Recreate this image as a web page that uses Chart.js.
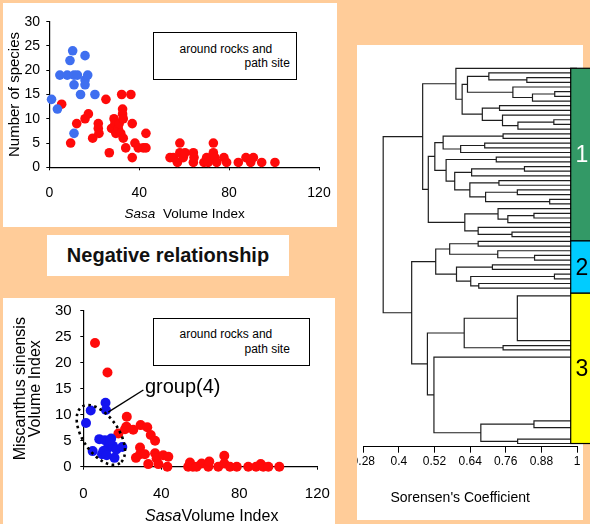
<!DOCTYPE html>
<html>
<head>
<meta charset="utf-8">
<title>Sasa volume index and site clusters</title>
<script src="https://cdn.jsdelivr.net/npm/chart.js@4.4.1/dist/chart.umd.min.js"></script>
<style>
  html, body { margin: 0; padding: 0; }
  body {
    width: 590px; height: 524px; position: relative; overflow: hidden;
    background: #ffcc99;
    font-family: Arial, "Liberation Sans", sans-serif;
  }
  .panel { position: absolute; background: #ffffff; }
  canvas { position: absolute; }
  .key { position: absolute; box-sizing: border-box; border: 1.5px solid #000; background: #fff; }
  .key span { position: absolute; font-size: 12px; line-height: 14px; white-space: nowrap; color: #000; }
  #headline {
    position: absolute; left: 47px; top: 235px; width: 242px; height: 41px; background: #fff;
    font-weight: bold; font-size: 20px; line-height: 41px; text-align: center; color: #111;
  }
</style>
</head>
<body>
<div class="panel" style="left:3px;top:3px;width:334px;height:224px"></div>
<div class="panel" style="left:3px;top:298px;width:332px;height:226px"></div>
<div class="panel" style="left:357px;top:45px;width:226px;height:475px"></div>

<canvas id="speciesChart" width="334" height="224" style="left:3px;top:3px"></canvas>
<canvas id="miscanthusChart" width="334" height="226" style="left:3px;top:298px"></canvas>
<canvas id="dendroChart" width="233" height="479" style="left:357px;top:45px"></canvas>

<div class="key" style="left:153px;top:32px;width:144px;height:48px">
  <span style="left:25.5px;top:8.5px">around rocks and</span>
  <span style="left:90.5px;top:23px">path site</span>
</div>
<div class="key" style="left:153px;top:318px;width:157px;height:48px">
  <span style="left:25.5px;top:8px">around rocks and</span>
  <span style="left:90.5px;top:23px">path site</span>
</div>
<div id="headline">Negative relationship</div>

<script>
// upper scatter: number of species against Sasa volume index
const topBlueSasa = [1.0, 3.6, 4.7, 8.0, 9.2, 10.4, 11.0, 11.0, 12.5, 13.9, 11.0, 15.9, 15.9, 15.9, 17.1, 20.3];
const topBlueSpecies = [14, 12, 19, 19, 22, 24, 19, 17, 19, 15, 7, 23, 18, 17, 19, 15];
const topRedSasa = [5.5, 9.5, 12.2, 15.9, 17.4, 19.3, 21.8, 21.8, 22.1, 25.2, 26.7, 27.7, 28.8, 29.2, 29.6,
  30.7, 31.1, 32.2, 32.6, 32.6, 32.9, 31.8, 32.9, 34.0, 36.3, 36.9, 36.9, 38.1, 39.6, 41.8, 43.0, 43.0,
  53.7, 55.2, 57.0, 58.1, 58.1, 59.6, 60.4, 64.1, 64.1, 64.4, 68.8, 70.0, 70.7, 73.0, 73.0, 73.7, 74.5,
  77.7, 78.9, 84.1, 87.5, 89.6, 90.8, 94.5, 100.4];
const topRedSpecies = [13, 5, 9, 10, 11, 6, 9, 8, 7, 14, 3, 8, 10, 9, 7,
  8, 9, 15, 12, 11, 10, 7, 6, 4, 15, 9, 2, 5, 4, 4, 7, 4,
  2, 2, 1, 5, 3, 2, 3, 3, 1, 2, 1, 2, 1, 5, 3, 2, 1,
  2, 1, 1, 2, 1, 2, 1, 1];

// lower scatter: Miscanthus sinensis volume index against Sasa volume index
const lowBlueSasa = [1.4, 3.8, 11.4, 11.6, 4.8, 8.2, 9.6, 11.1, 11.8, 13.5, 14.3, 15.2, 16.0, 17.0, 20.0, 10.3, 12.0, 13.7];
const lowBlueMiscanthus = [8.4, 10.8, 12.3, 10.9, 3.0, 5.3, 2.4, 5.1, 3.3, 3.8, 5.4, 4.0, 1.7, 3.3, 3.8, 3.0, 2.2, 5.1];
const lowRedSasa = [6.0, 12.4, 18.0, 21.4, 22.3, 22.1, 25.6, 27.0, 29.4, 29.1, 29.1, 31.6, 32.8, 33.3, 34.6,
  36.8, 36.8, 37.6, 38.5, 41.0, 43.6, 43.1, 53.8, 54.7, 56.2, 58.1, 60.7, 64.1, 64.6, 69.2,
  72.3, 72.3, 75.2, 78.7, 84.6, 88.6, 91.0, 92.3, 94.9, 100.5];
const lowRedMiscanthus = [23.8, 18.1, 6.4, 7.2, 9.6, 7.7, 7.1, 1.7, 8.0, 3.7, 2.4, 2.4, 7.6, 0.5, 6.1,
  5.0, 2.6, 1.6, 0.5, 2.2, 1.9, 0, 0, 0.8, 0, 0, 0.6, 0, 1.0, 0,
  2.1, 0.6, 0, 0, 0, 0, 0.5, 0, 0, 0];

const sasaTicks = [0, 40, 80, 120];
const volumeTicks = [0, 5, 10, 15, 20, 25, 30];

// dendrogram: leaf rows (top to bottom) and hclust-style merges [a, b, Sorensen coefficient]
// negative id = leaf number, positive id = earlier merge number
const leafRows = [1, 2, 3, 4, 5, 6, 7, 8, 9, 10, 11, 12, 13, 14, 15, 16, 17, 18, 19, 20,
  21, 22, 23, 24, 25, 26, 27, 28, 29, 30, 31, 32, 33, 34, 35, 36, 37,
  38, 39, 40, 41, 42, 43, 44, 45, 46, 47, 48,
  49.65, 59.2, 60.27, 61.2, 62.73, 76.34, 77.8, 80.27, 81.2];
const merges = [
  [-3, -4, 0.831], [-2, 1, 0.703], [-6, -7, 0.925], [3, -8, 0.850], [-5, 4, 0.784],
  [2, 5, 0.631], [-9, -10, 0.739], [-12, -13, 0.922], [8, -14, 0.801], [-11, 9, 0.749],
  [7, 10, 0.681], [6, 11, 0.613], [-1, 12, 0.592], [-15, -16, 0.751], [-17, -18, 0.689],
  [15, -19, 0.608], [14, 16, 0.549], [-20, -21, 0.728], [-22, -23, 0.823], [19, -24, 0.645],
  [-25, -26, 0.737], [-27, -28, 0.799], [-29, -30, 0.908], [22, 23, 0.692], [21, 24, 0.639],
  [20, 25, 0.588], [18, 26, 0.559], [17, 27, 0.521], [-32, -33, 0.855], [29, -34, 0.767],
  [-31, 30, 0.734], [-36, -37, 0.781], [-35, 32, 0.667], [31, 33, 0.622], [28, 34, 0.499],
  [13, 35, 0.480],
  [-38, -39, 0.667], [-41, -42, 0.857], [-40, 38, 0.733], [37, 39, 0.571], [-43, -44, 0.715],
  [-45, -46, 0.924], [-47, -48, 0.669], [42, 43, 0.642], [41, 44, 0.594], [40, 45, 0.524],
  [-49, -50, 0.799], [-51, -52, 0.751], [47, 48, 0.620], [-54, -55, 0.855], [-56, -57, 0.800],
  [50, 51, 0.676], [-53, 52, 0.518], [49, 53, 0.496], [46, 54, 0.443], [36, 55, 0.347]
];
const sorensenTicks = [0.28, 0.4, 0.52, 0.64, 0.76, 0.88, 1];
const clusterNames = ['1', '2', '3'];
const clusterTop = [1, 37.9, 49.08];
const clusterBottom = [37.9, 49.08, 81.2];
const clusterColors = ['#339966', '#00ccff', '#ffff00'];
const clusterTextColors = ['#ffffff', '#000000', '#000000'];

const FAMILY = 'Arial, "Liberation Sans", sans-serif';
Chart.defaults.font.family = FAMILY;
Chart.defaults.color = '#000';
Chart.defaults.animation = false;

const pairs = (xs, ys) => xs.map((x, i) => ({ x: x, y: ys[i] }));

// x title with the italic genus name
function sasaAxisTitle(gap, size, y, dx) {
  return {
    id: 'sasaAxisTitle',
    afterDraw(chart) {
      const { ctx, chartArea } = chart;
      ctx.save();
      ctx.fillStyle = '#000';
      ctx.textBaseline = 'middle';
      ctx.textAlign = 'left';
      ctx.font = `italic ${size}px ${FAMILY}`;
      const wItalic = ctx.measureText('Sasa').width;
      ctx.font = `${size}px ${FAMILY}`;
      const rest = gap + 'Volume Index';
      const wRest = ctx.measureText(rest).width;
      const x = (chartArea.left + chartArea.right) / 2 + dx - (wItalic + wRest) / 2;
      ctx.font = `italic ${size}px ${FAMILY}`;
      ctx.fillText('Sasa', x, y);
      ctx.font = `${size}px ${FAMILY}`;
      ctx.fillText(rest, x + wItalic, y);
      ctx.restore();
    }
  };
}

function scatterScales(o) {
  return {
    x: {
      type: 'linear', min: 0, max: 120,
      afterBuildTicks: s => { s.ticks = sasaTicks.map(v => ({ value: v })); },
      ticks: { font: { size: o.tickSize }, padding: o.xPad, maxRotation: 0 },
      grid: { drawOnChartArea: false, tickLength: 3, color: '#000' },
      border: { color: '#000', width: 1.2 },
      afterFit: s => { s.height = o.xHeight; s.paddingLeft = 0; s.paddingRight = 0; }
    },
    y: {
      type: 'linear', min: 0, max: 30,
      afterBuildTicks: s => { s.ticks = volumeTicks.map(v => ({ value: v })); },
      ticks: { font: { size: o.tickSize }, padding: o.yPad },
      grid: { drawOnChartArea: false, tickLength: 3, color: '#000' },
      border: { color: '#000', width: 1.2 },
      title: o.yTitle,
      afterFit: s => { s.width = o.yWidth; s.paddingTop = 0; s.paddingBottom = 0; }
    }
  };
}

new Chart(document.getElementById('speciesChart'), {
  type: 'scatter',
  data: {
    datasets: [
      { data: pairs(topBlueSasa, topBlueSpecies), backgroundColor: '#3f6ff0', pointRadius: 4.8, borderWidth: 0, clip: false },
      { data: pairs(topRedSasa, topRedSpecies), backgroundColor: '#ff0a0a', pointRadius: 4.8, borderWidth: 0, clip: false }
    ]
  },
  options: {
    responsive: false,
    events: [],
    layout: { padding: { left: 0, top: 18.7, right: 18, bottom: 0 } },
    plugins: { legend: { display: false }, tooltip: { enabled: false } },
    scales: scatterScales({
      tickSize: 14, xPad: 14, yPad: 6.3, xHeight: 59.7, yWidth: 46.3,
      yTitle: { display: true, text: 'Number of species', font: { size: 15 }, padding: { top: 3, bottom: 0 } }
    })
  },
  plugins: [sasaAxisTitle('  ', 13.5, 211, 0.5)]
});

// dotted ring and pointer for group(4)
const groupNote = { centre: [9.0, 6.1], from: [12.8, 10.5], to: [30.8, 14.75], label: [31.6, 15.2] };
const groupMark = {
  id: 'groupMark',
  afterDatasetsDraw(chart) {
    const { ctx, scales: { x, y } } = chart;
    ctx.save();
    ctx.strokeStyle = '#000';
    ctx.lineWidth = 2.6;
    ctx.setLineDash([2.6, 3.4]);
    ctx.beginPath();
    ctx.ellipse(x.getPixelForValue(groupNote.centre[0]), y.getPixelForValue(groupNote.centre[1]),
      34, 18, 56 * Math.PI / 180, 0, 2 * Math.PI);
    ctx.stroke();
    ctx.setLineDash([]);
    ctx.lineWidth = 1.4;
    ctx.beginPath();
    ctx.moveTo(x.getPixelForValue(groupNote.from[0]), y.getPixelForValue(groupNote.from[1]));
    ctx.lineTo(x.getPixelForValue(groupNote.to[0]), y.getPixelForValue(groupNote.to[1]));
    ctx.stroke();
    ctx.fillStyle = '#000';
    ctx.font = `20px ${FAMILY}`;
    ctx.textAlign = 'left';
    ctx.textBaseline = 'middle';
    ctx.fillText('group(4)', x.getPixelForValue(groupNote.label[0]), y.getPixelForValue(groupNote.label[1]));
    ctx.restore();
  }
};

new Chart(document.getElementById('miscanthusChart'), {
  type: 'scatter',
  data: {
    datasets: [
      { data: pairs(lowBlueSasa, lowBlueMiscanthus), backgroundColor: '#1414f0', pointRadius: 5, borderWidth: 0, clip: false },
      { data: pairs(lowRedSasa, lowRedMiscanthus), backgroundColor: '#ff0a0a', pointRadius: 5, borderWidth: 0, clip: false }
    ]
  },
  options: {
    responsive: false,
    events: [],
    layout: { padding: { left: 0, top: 12.7, right: 19.7, bottom: 0 } },
    plugins: { legend: { display: false }, tooltip: { enabled: false } },
    scales: scatterScales({
      tickSize: 15, xPad: 15.6, yPad: 8.6, xHeight: 57.3, yWidth: 80.3,
      yTitle: { display: true, text: ['Miscanthus sinensis', 'Volume Index'], font: { size: 16, lineHeight: 0.95 }, padding: { top: 9.5, bottom: 0 } }
    })
  },
  plugins: [groupMark, sasaAxisTitle('', 16, 218.7, 11.4)]
});

// dendrogram lines: one U-shaped polyline per merge, separated by gaps
const nodeRow = [];
const childAt = id => id < 0
  ? { x: 1, y: leafRows[-id - 1] }
  : { x: merges[id - 1][2], y: nodeRow[id - 1] };
const treeLines = [];
merges.forEach(([a, b, h], i) => {
  const p = childAt(a), q = childAt(b);
  nodeRow[i] = (p.y + q.y) / 2;
  treeLines.push({ x: p.x, y: p.y }, { x: h, y: p.y }, { x: h, y: q.y }, { x: q.x, y: q.y }, { x: null, y: null });
});

const clusterBar = {
  id: 'clusterBar',
  afterDatasetsDraw(chart) {
    const { ctx, chartArea, scales: { y } } = chart;
    const left = chartArea.right - 6.3;
    ctx.save();
    clusterNames.forEach((name, i) => {
      const top = y.getPixelForValue(clusterTop[i]);
      const bottom = y.getPixelForValue(clusterBottom[i]);
      ctx.fillStyle = clusterColors[i];
      ctx.fillRect(left, top, chart.width - left + 2, bottom - top);
      ctx.strokeStyle = '#000';
      ctx.lineWidth = 1.2;
      ctx.strokeRect(left, top, chart.width - left + 2, bottom - top);
      ctx.fillStyle = clusterTextColors[i];
      ctx.font = `23px ${FAMILY}`;
      ctx.textAlign = 'center';
      ctx.textBaseline = 'middle';
      ctx.fillText(name, left + 11.3, (top + bottom) / 2 + 1.5);
    });
    ctx.fillStyle = '#000';
    ctx.font = `14px ${FAMILY}`;
    ctx.textAlign = 'center';
    ctx.textBaseline = 'middle';
    ctx.fillText("Sorensen's Coefficient", (chartArea.left + chartArea.right) / 2 - 10, 453.3);
    ctx.restore();
  }
};

new Chart(document.getElementById('dendroChart'), {
  type: 'line',
  data: {
    datasets: [{
      data: treeLines, borderColor: '#1e1e1e', borderWidth: 1.2,
      pointRadius: 0, tension: 0, spanGaps: false, fill: false
    }]
  },
  options: {
    responsive: false,
    events: [],
    layout: { padding: { left: 6.3, top: 20, right: 13, bottom: 0 } },
    plugins: { legend: { display: false }, tooltip: { enabled: false } },
    scales: {
      x: {
        type: 'linear', min: 0.28, max: 1,
        afterBuildTicks: s => { s.ticks = sorensenTicks.map(v => ({ value: v })); },
        ticks: { font: { size: 12 }, padding: 1.8, maxRotation: 0, autoSkip: false, callback: v => String(v) },
        grid: { drawOnChartArea: false, tickLength: 6, color: '#000' },
        border: { color: '#000', width: 1 },
        afterFit: s => { s.height = 77.3; s.paddingLeft = 0; s.paddingRight = 0; }
      },
      y: { type: 'linear', display: false, reverse: true, min: 0.3, max: 81.88 }
    }
  },
  plugins: [clusterBar]
});
</script>
</body>
</html>
